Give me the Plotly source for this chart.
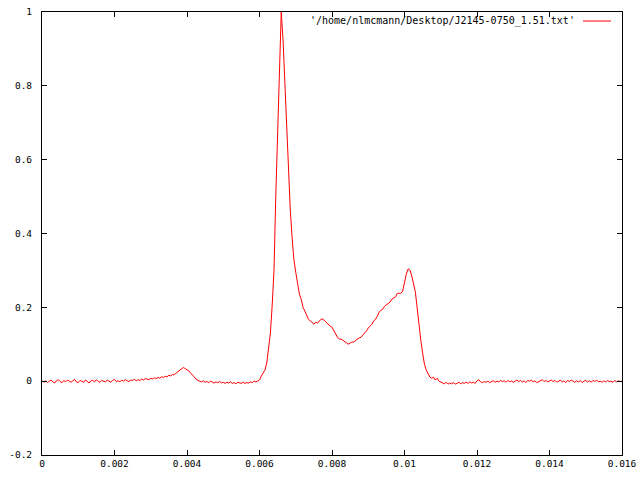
import numpy as np
import plotly.graph_objects as go

# Pulse profile, sampled every 0.00005 s from 0 to 0.016 s
bin_width = 0.00005
intensity = [
    # 0.0000 - 0.0030
    0.002, -0.003, 0.001, -0.004, 0.000, 0.003, -0.002, -0.005, 0.001, 0.004,
    -0.001, -0.004, 0.002, -0.002, 0.003, 0.000, -0.003, 0.001, 0.005, -0.002,
    -0.004, 0.002, 0.000, -0.003, 0.003, -0.001, -0.005, 0.001, 0.002, -0.002,
    0.004, -0.001, -0.003, 0.002, 0.000, -0.002, 0.003, 0.001, -0.003, 0.002,
    0.005, -0.001, 0.001, -0.002, 0.003, 0.000, 0.004, 0.001, -0.001, 0.003,
    0.002, 0.005, 0.001, 0.004, 0.002, 0.006, 0.003, 0.007, 0.005, 0.004,
    0.008,
    # 0.00305 - 0.0050 (small precursor)
    0.006, 0.009, 0.007, 0.010, 0.008, 0.012, 0.010, 0.013, 0.012, 0.016,
    0.014, 0.018, 0.017, 0.022, 0.026, 0.030, 0.033, 0.037, 0.034, 0.031,
    0.028, 0.022, 0.016, 0.010, 0.006, 0.002, 0.000, -0.002, 0.001, -0.003,
    -0.001, -0.004, 0.000, -0.003, -0.005, -0.002, -0.004, -0.001, -0.005, -0.003,
    # 0.00505 - 0.0059
    -0.006, -0.003, -0.005, -0.002, -0.006, -0.004, -0.007, -0.003, -0.005, -0.006,
    -0.003, -0.006, -0.004, -0.005, -0.002, -0.004, 0.000, -0.002,
    # 0.00595 - main pulse
    0.000, 0.003, 0.014, 0.024, 0.030, 0.049, 0.084, 0.130, 0.206, 0.301,
    0.504, 0.686, 0.890, 1.000, 0.924, 0.800, 0.699, 0.572, 0.463, 0.388,
    0.328, 0.295, 0.260, 0.236, 0.222, 0.200, 0.190, 0.176, 0.168, 0.163,
    0.160, 0.154, 0.160, 0.157, 0.163, 0.168, 0.168, 0.163, 0.160, 0.154,
    0.149, 0.146, 0.136, 0.127, 0.119, 0.114, 0.114, 0.111, 0.108, 0.103,
    0.100, 0.103, 0.106, 0.106, 0.111, 0.114, 0.117, 0.119, 0.125, 0.130,
    0.136, 0.144, 0.149, 0.154, 0.163, 0.168, 0.176, 0.187, 0.192, 0.195,
    0.203, 0.206, 0.211, 0.214, 0.222, 0.225, 0.228, 0.238, 0.238, 0.238,
    0.244, 0.268, 0.290, 0.304, 0.301, 0.285, 0.266, 0.241, 0.198, 0.144,
    0.111, 0.076, 0.046, 0.030, 0.019, 0.011, 0.008, 0.011, 0.003, 0.008,
    0.000, -0.003,
    # 0.01105 - 0.0160
    -0.004, -0.007, -0.003, -0.008, -0.005, -0.007, -0.004, -0.008, -0.006, -0.003,
    -0.007, -0.004, -0.006, -0.003, -0.006, -0.002, -0.005, -0.003, -0.006, 0.001,
    0.004, -0.002, -0.004, -0.001, -0.003, 0.000, -0.004, -0.002, 0.001, -0.003,
    0.000, -0.002, 0.002, -0.001, 0.001, -0.003, 0.002, -0.001, 0.000, -0.003,
    0.001, 0.003, -0.001, 0.002, -0.002, 0.001, -0.004, 0.002, 0.000, 0.003,
    -0.002, 0.001, -0.004, -0.002, 0.002, 0.004, -0.001, 0.002, -0.002, 0.001,
    0.003, -0.001, 0.002, -0.003, 0.000, 0.003, -0.002, 0.001, -0.004, 0.002,
    -0.001, 0.003, 0.000, -0.003, 0.001, -0.002, 0.002, -0.004, 0.000, 0.002,
    -0.002, 0.001, -0.003, 0.002, -0.001, 0.003, -0.002, 0.000, -0.003, 0.001,
    -0.002, 0.002, -0.001, 0.000, -0.003, 0.002, -0.002, 0.001, -0.001, 0.000,
]
time = [round(i * bin_width, 6) for i in range(len(intensity))]

x_ticks = [0, 0.002, 0.004, 0.006, 0.008, 0.01, 0.012, 0.014, 0.016]
x_tick_labels = ["0", "0.002", "0.004", "0.006", "0.008", "0.01", "0.012", "0.014", "0.016"]
y_ticks = [-0.2, 0, 0.2, 0.4, 0.6, 0.8, 1]
y_tick_labels = ["-0.2", "0", "0.2", "0.4", "0.6", "0.8", "1"]
series_name = "'/home/nlmcmann/Desktop/J2145-0750_1.51.txt'"

fig = go.Figure()
fig.add_trace(go.Scatter(
    x=time, y=intensity, mode="lines",
    line=dict(color="#ff0000", width=1),
    name=series_name, showlegend=False,
))

axis_common = dict(
    showline=True, linecolor="black", linewidth=1, mirror="ticks",
    ticks="inside", ticklen=5, tickcolor="black", tickwidth=1,
    showgrid=False, zeroline=False, automargin=False,
    tickfont=dict(family="DejaVu Sans Mono", size=9.5, color="black"),
)

fig.update_xaxes(range=[0, 0.016], tickvals=x_ticks, ticktext=x_tick_labels,
                 ticklabelstandoff=0, **axis_common)
fig.update_yaxes(range=[-0.2, 1], tickvals=y_ticks, ticktext=y_tick_labels,
                 ticklabelstandoff=7, **axis_common)

# gnuplot-style key: text followed by line sample
fig.add_annotation(
    xref="paper", yref="paper", x=0.9224, y=0.9797,
    xanchor="right", yanchor="middle", showarrow=False,
    text=series_name,
    font=dict(family="DejaVu Sans Mono", size=10, color="black"),
)
fig.add_shape(type="line", xref="paper", yref="paper",
              x0=0.9328, x1=0.981, y0=0.9797, y1=0.9797,
              line=dict(color="#ff0000", width=1))

fig.update_layout(
    width=640, height=480,
    margin=dict(l=42, r=18, t=12, b=25),
    plot_bgcolor="white", paper_bgcolor="white",
    hovermode=False,
)

fig.write_html(
    "out.html",
    config={"displayModeBar": False, "staticPlot": True},
    post_script="document.body.style.margin='0';document.body.style.overflow='hidden';",
)
